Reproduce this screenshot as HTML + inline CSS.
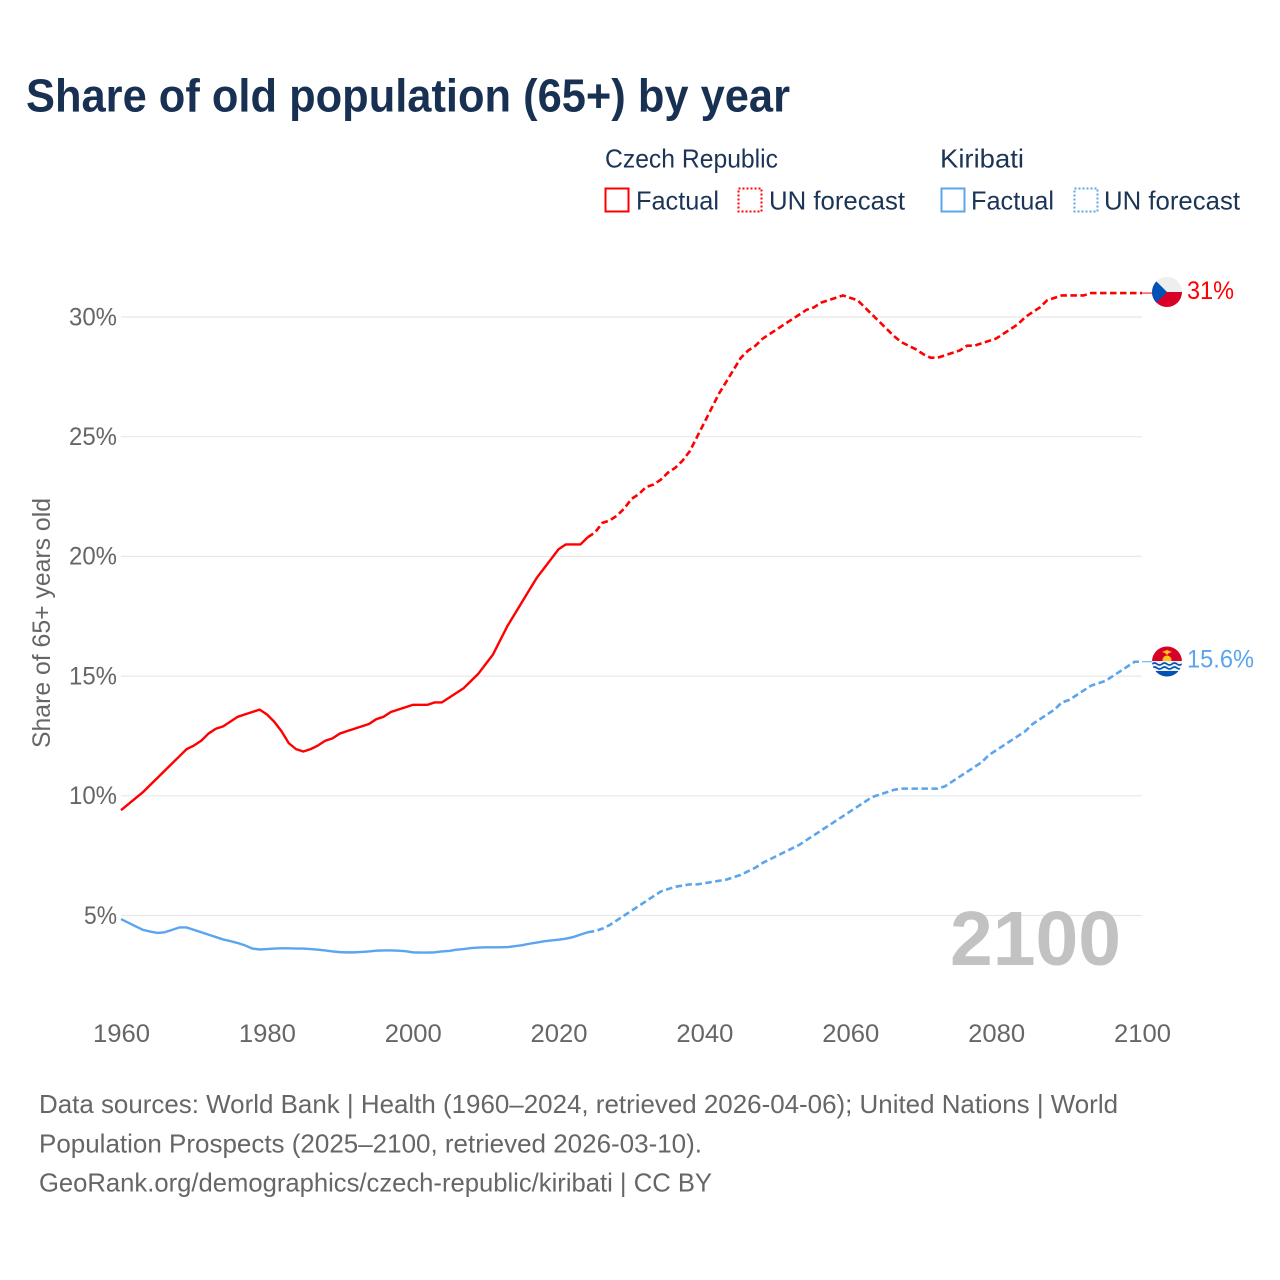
<!DOCTYPE html>
<html lang="en">
<head>
<meta charset="utf-8">
<title>Share of old population (65+) by year</title>
<style>
html,body{margin:0;padding:0;background:#fff;}
svg{display:block;}
text{font-family:"Liberation Sans",sans-serif;}
</style>
</head>
<body>
<svg id="chart" xmlns="http://www.w3.org/2000/svg" width="1280" height="1280" viewBox="0 0 1280 1280">
  <defs>
    <clipPath id="flag-clip-cz"><circle cx="1167" cy="292" r="15"/></clipPath>
    <clipPath id="flag-clip-ki"><circle cx="1167" cy="661.5" r="15"/></clipPath>
  </defs>
  <rect x="0" y="0" width="1280" height="1280" fill="#fff"/>
  <text x="26" y="111.5" font-size="46" font-weight="700" fill="#183153" textLength="764" lengthAdjust="spacingAndGlyphs">Share of old population (65+) by year</text>

  <g font-size="26" fill="#1c3557">
    <text x="605" y="167.5" textLength="173" lengthAdjust="spacingAndGlyphs">Czech Republic</text>
    <text x="940" y="167.5" textLength="84" lengthAdjust="spacingAndGlyphs">Kiribati</text>
    <rect x="605.5" y="188.5" width="23" height="23" fill="none" stroke="#ff0000" stroke-width="2"/>
    <text x="636" y="209.5" textLength="83" lengthAdjust="spacingAndGlyphs">Factual</text>
    <rect x="738.5" y="188.5" width="23" height="23" fill="none" stroke="#ff0000" stroke-width="2" stroke-dasharray="2 2"/>
    <text x="769" y="209.5" textLength="136" lengthAdjust="spacingAndGlyphs">UN forecast</text>
    <rect x="941.5" y="188.5" width="23" height="23" fill="none" stroke="#5ba4ee" stroke-width="2"/>
    <text x="971" y="209.5" textLength="83" lengthAdjust="spacingAndGlyphs">Factual</text>
    <rect x="1074.5" y="188.5" width="23" height="23" fill="none" stroke="#5ba4ee" stroke-width="2" stroke-dasharray="2 2"/>
    <text x="1104" y="209.5" textLength="136" lengthAdjust="spacingAndGlyphs">UN forecast</text>
  </g>

  <g id="grid"></g>
  <g id="y-ticks"></g>
  <g id="x-ticks"></g>
  <text transform="translate(50,748) rotate(-90)" x="0" y="0" font-size="25" fill="#666" textLength="250" lengthAdjust="spacingAndGlyphs">Share of 65+ years old</text>

  <text x="950" y="965" font-size="77" font-weight="700" fill="#c2c2c2" textLength="171" lengthAdjust="spacingAndGlyphs">2100</text>

  <g id="series"></g>

  <g clip-path="url(#flag-clip-cz)">
    <rect x="1152" y="277" width="30" height="15" fill="#eeeeee"/>
    <rect x="1152" y="292" width="30" height="15" fill="#d80027"/>
    <polygon points="1152,277 1167,292 1152,307" fill="#0052b4"/>
  </g>
  <g clip-path="url(#flag-clip-ki)">
    <rect x="1152" y="646" width="30" height="15" fill="#d80027"/>
    <circle cx="1167" cy="660" r="4.5" fill="#ffc21c"/>
    <path d="M1162 652 l5 -2 l5 2 l-3 1 l-2 2 l-2 -2 z" fill="#ffc21c"/>
    <rect x="1152" y="661" width="30" height="16" fill="#f0f0f0"/>
    <path d="M1152 664 q2.5 -2 5 0 t5 0 t5 0 t5 0 t5 0 t5 0" fill="none" stroke="#0052b4" stroke-width="1.6"/>
    <path d="M1152 668 q2.5 -2 5 0 t5 0 t5 0 t5 0 t5 0 t5 0" fill="none" stroke="#0052b4" stroke-width="1.6"/>
    <rect x="1152" y="671" width="30" height="7" fill="#0052b4"/>
  </g>

  <g id="end-labels" font-size="25"></g>

  <g font-size="26" fill="#666">
    <text x="39" y="1113" textLength="1079" lengthAdjust="spacingAndGlyphs">Data sources: World Bank | Health (1960–2024, retrieved 2026-04-06); United Nations | World</text>
    <text x="39" y="1152.5" textLength="663" lengthAdjust="spacingAndGlyphs">Population Prospects (2025–2100, retrieved 2026-03-10).</text>
    <text x="39" y="1191.5" textLength="673" lengthAdjust="spacingAndGlyphs">GeoRank.org/demographics/czech-republic/kiribati | CC BY</text>
  </g>
</svg>
<script>
const firstYear = 1960;
const lastFactualYear = 2024;
const yTickValues = [5, 10, 15, 20, 25, 30];
const xTickValues = [1960, 1980, 2000, 2020, 2040, 2060, 2080, 2100];
const czechValues = [
  9.4,9.65,9.9,10.15,10.45,10.75,11.05,11.35,11.65,11.95,
  12.1,12.3,12.6,12.8,12.9,13.1,13.3,13.4,13.5,13.6,
  13.4,13.1,12.7,12.2,11.95,11.85,11.95,12.1,12.3,12.4,
  12.6,12.7,12.8,12.9,13.0,13.2,13.3,13.5,13.6,13.7,
  13.8,13.8,13.8,13.9,13.9,14.1,14.3,14.5,14.8,15.1,
  15.5,15.9,16.5,17.1,17.6,18.1,18.6,19.1,19.5,19.9,
  20.3,20.5,20.5,20.5,20.8,21.0,21.4,21.5,21.7,22.0,
  22.4,22.6,22.9,23.0,23.2,23.5,23.7,24.0,24.4,25.0,
  25.6,26.2,26.8,27.3,27.8,28.3,28.6,28.8,29.1,29.3,
  29.5,29.7,29.9,30.1,30.3,30.4,30.6,30.7,30.8,30.9,
  30.8,30.7,30.4,30.1,29.8,29.5,29.2,28.95,28.8,28.65,
  28.45,28.3,28.3,28.4,28.5,28.6,28.8,28.8,28.9,29.0,
  29.1,29.3,29.5,29.7,30.0,30.2,30.4,30.7,30.8,30.9,
  30.9,30.9,30.9,31.0,31.0,31.0,31.0,31.0,31.0,31.0,31.0
];
const kiribatiValues = [
  4.85,4.7,4.55,4.4,4.33,4.27,4.3,4.4,4.5,4.5,
  4.4,4.3,4.2,4.1,4.0,3.93,3.85,3.75,3.62,3.58,
  3.6,3.62,3.63,3.63,3.62,3.62,3.6,3.57,3.54,3.5,
  3.47,3.46,3.46,3.48,3.5,3.53,3.54,3.54,3.53,3.51,
  3.46,3.45,3.45,3.46,3.5,3.52,3.57,3.6,3.64,3.66,
  3.67,3.67,3.67,3.68,3.72,3.76,3.82,3.87,3.92,3.96,
  3.99,4.03,4.1,4.2,4.3,4.35,4.45,4.6,4.8,5.0,
  5.2,5.4,5.6,5.8,6.0,6.1,6.2,6.25,6.3,6.3,
  6.35,6.4,6.45,6.5,6.6,6.7,6.85,7.0,7.2,7.35,
  7.5,7.65,7.8,7.95,8.15,8.35,8.55,8.75,8.95,9.15,
  9.35,9.55,9.75,9.95,10.05,10.15,10.25,10.3,10.3,10.3,
  10.3,10.3,10.3,10.4,10.6,10.8,11.0,11.2,11.4,11.7,
  11.9,12.1,12.3,12.5,12.7,13.0,13.2,13.4,13.6,13.9,
  14.0,14.2,14.4,14.6,14.7,14.8,15.0,15.2,15.4,15.6,15.6
];

const NS = 'http://www.w3.org/2000/svg';
function xScale(year) { return 121 + (year - 1960) * (1142 - 121) / 140; }
function yScale(value) { return 915.5 - (value - 5) * 23.94; }
function makeText(content, x, y, size, fill, length, anchor) {
  const t = document.createElementNS(NS, 'text');
  t.textContent = content;
  t.setAttribute('x', x);
  t.setAttribute('y', y);
  t.setAttribute('font-size', size);
  t.setAttribute('fill', fill);
  t.setAttribute('textLength', length);
  t.setAttribute('lengthAdjust', 'spacingAndGlyphs');
  t.setAttribute('text-anchor', anchor);
  return t;
}
function makePath(values, fromIdx, toIdx, color, dashed) {
  let d = '';
  for (let i = fromIdx; i <= toIdx; i++) {
    d += (i === fromIdx ? 'M' : 'L') + xScale(firstYear + i).toFixed(2) + ' ' + yScale(values[i]).toFixed(2);
  }
  const p = document.createElementNS(NS, 'path');
  p.setAttribute('d', d);
  p.setAttribute('fill', 'none');
  p.setAttribute('stroke', color);
  p.setAttribute('stroke-width', dashed ? '2.6' : '2.4');
  p.setAttribute('stroke-linejoin', 'round');
  if (dashed) p.setAttribute('stroke-dasharray', '6.5 3.5');
  return p;
}

const gridGroup = document.getElementById('grid');
const yTickGroup = document.getElementById('y-ticks');
yTickValues.forEach(function (v) {
  const line = document.createElementNS(NS, 'line');
  
  
  line.setAttribute('x1', 121);
  line.setAttribute('x2', 1142);
  line.setAttribute('y1', yScale(v));
  line.setAttribute('y2', yScale(v));
  line.setAttribute('stroke', '#e8e8e8');
  line.setAttribute('stroke-width', '1.2');
  gridGroup.appendChild(line);
  const label = v + '%';
  const t = makeText(label, 117, yScale(v) + 8.3, 25, '#666', (label.length - 1) * 15 + 18, 'end');
  
  
  yTickGroup.appendChild(t);
});

const xTickGroup = document.getElementById('x-ticks');
xTickValues.forEach(function (year) {
  const t = makeText(String(year), xScale(year) + 0.5, 1042, 25, '#666', 57, 'middle');
  
  
  xTickGroup.appendChild(t);
});

const seriesGroup = document.getElementById('series');
const splitIdx = lastFactualYear - firstYear;
const lastIdx = czechValues.length - 1;

const czechFactual = makePath(czechValues, 0, splitIdx, '#ff0000', false);


seriesGroup.appendChild(czechFactual);

const czechForecast = makePath(czechValues, splitIdx, lastIdx, '#ff0000', true);


seriesGroup.appendChild(czechForecast);

const kiribatiFactual = makePath(kiribatiValues, 0, splitIdx, '#5ba4ee', false);


seriesGroup.appendChild(kiribatiFactual);

const kiribatiForecast = makePath(kiribatiValues, splitIdx, kiribatiValues.length - 1, '#5ba4ee', true);


seriesGroup.appendChild(kiribatiForecast);

function makeConnector(value, color) {
  const line = document.createElementNS(NS, 'line');
  line.setAttribute('x1', 1142);
  line.setAttribute('x2', 1153);
  line.setAttribute('y1', yScale(value));
  line.setAttribute('y2', yScale(value));
  line.setAttribute('stroke', color);
  line.setAttribute('stroke-width', '1');
  return line;
}
const czechConnector = makeConnector(czechValues[lastIdx], '#ff0000');


seriesGroup.appendChild(czechConnector);

const kiribatiConnector = makeConnector(kiribatiValues[lastIdx], '#5ba4ee');


seriesGroup.appendChild(kiribatiConnector);

const endGroup = document.getElementById('end-labels');
const czechEnd = makeText(czechValues[lastIdx] + '%', 1187, yScale(czechValues[lastIdx]) + 6, 25, '#ff0000', 47, 'start');


endGroup.appendChild(czechEnd);

const kiribatiEnd = makeText(kiribatiValues[lastIdx] + '%', 1187, yScale(kiribatiValues[lastIdx]) + 6, 25, '#5ba4ee', 67, 'start');


endGroup.appendChild(kiribatiEnd);
</script>
</body>
</html>
